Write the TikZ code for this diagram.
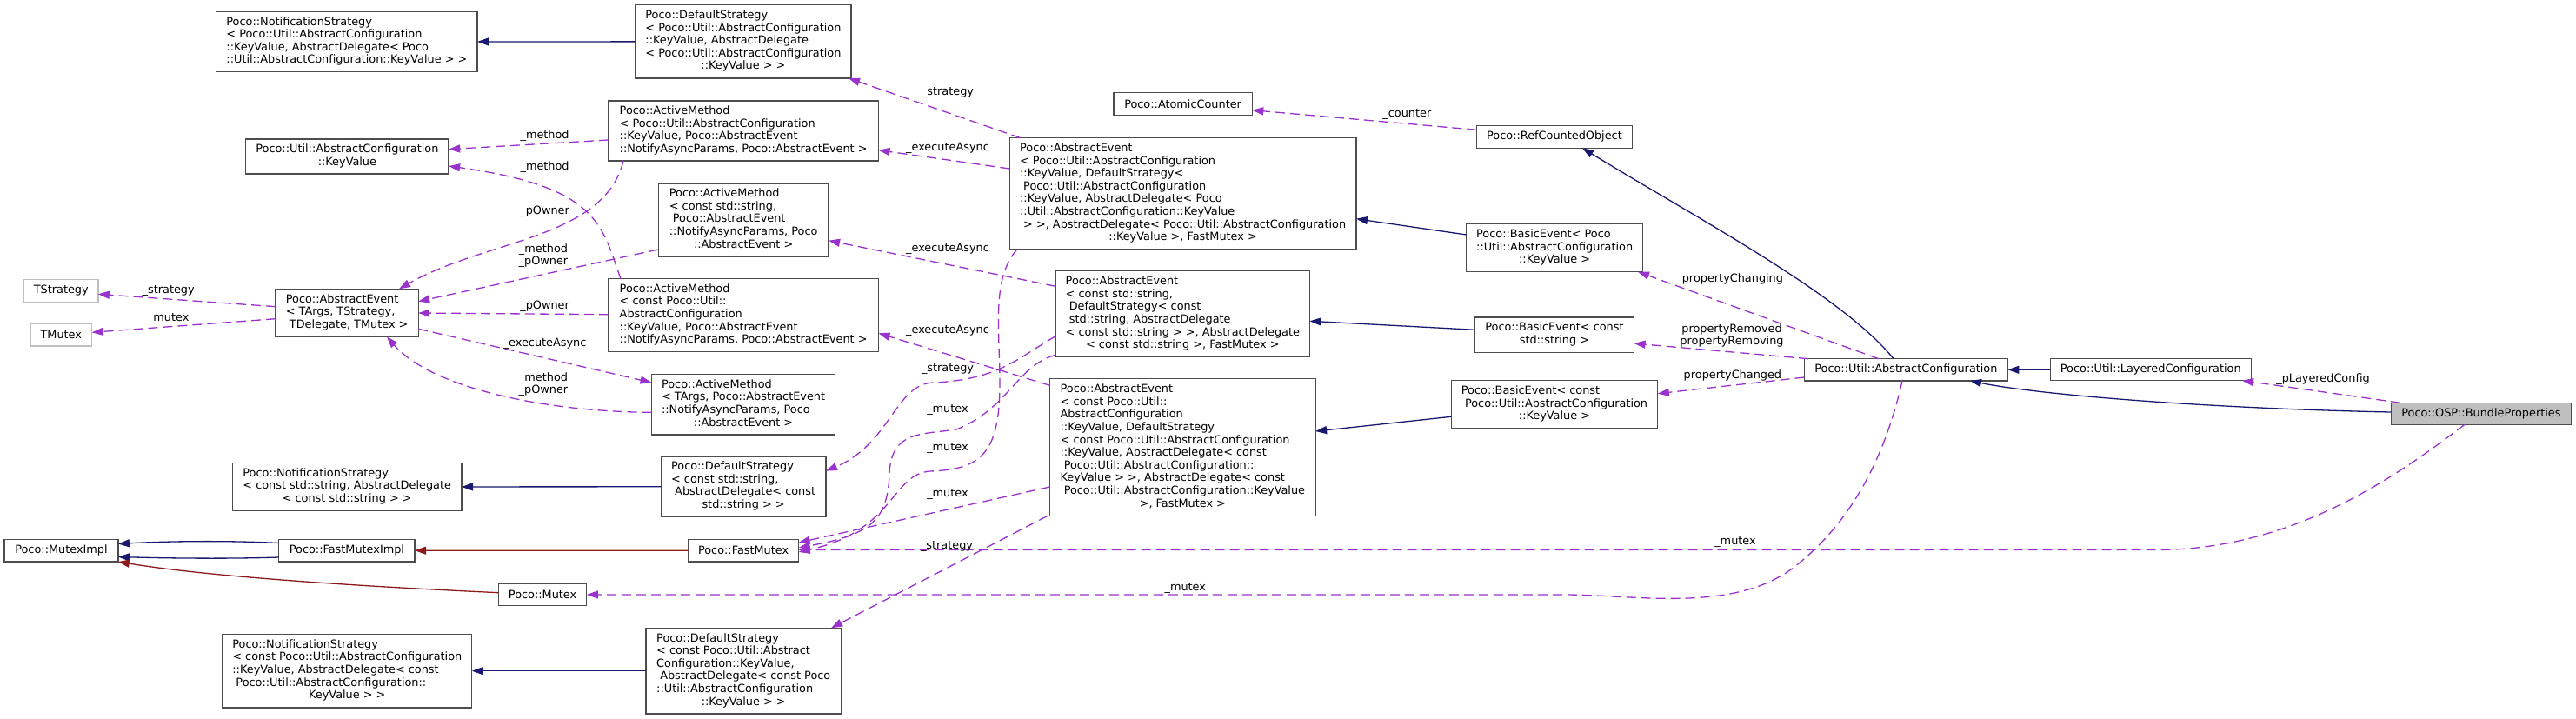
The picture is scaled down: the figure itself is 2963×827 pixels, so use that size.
\documentclass[tikz,border=0pt]{standalone}
\usepackage{fontspec}
\setmainfont{DejaVu Sans}
\usetikzlibrary{arrows.meta}
\definecolor{inhblue}{HTML}{191970}
\definecolor{privred}{HTML}{8B1A1A}
\definecolor{usepurple}{HTML}{9A32CD}
\definecolor{boxgray}{HTML}{4D4D4D}
\definecolor{extgray}{HTML}{BFBFBF}
\newcommand\boxtxt[1]{\begin{tabular}{@{}l@{}}#1\end{tabular}}
\newcommand\lastln[1]{\multicolumn{1}{@{}c@{}}{#1}}
\tikzset{
  cls/.style={draw=boxgray, line width=1.3pt, fill=white, inner sep=0pt, outer sep=0pt,
    anchor=north west, font=\fontsize{12.85}{14.6}\selectfont},
  extcls/.style={cls, draw=extgray},
  focus/.style={cls, fill=extgray},
  inh/.style={draw=inhblue, line width=1.3pt, -{Triangle[length=13pt,width=9pt]}},
  priv/.style={inh, draw=privred},
  dep/.style={draw=usepurple, line width=1.3pt, dash pattern=on 11pt off 6pt,
    -{Triangle[length=13pt,width=9pt]}},
  elbl/.style={inner sep=0pt, align=center, font=\fontsize{12.85}{14}\selectfont}
}
\begin{document}
\begin{tikzpicture}[x=1pt,y=-1pt]
\fill[white] (0,0) rectangle (2963,827);
\useasboundingbox (0,0) rectangle (2963,827);

% ---------- nodes ----------
\node[cls, minimum width=300.4pt, minimum height=69.4pt] (NS_KV) at (248.7,13.3) {\boxtxt{Poco::NotificationStrategy\\
< Poco::Util::AbstractConfiguration\\
::KeyValue, AbstractDelegate< Poco\\
\lastln{::Util::AbstractConfiguration::KeyValue > >}}};

\node[cls, minimum width=248.4pt, minimum height=84.3pt] (DS_KV) at (730.7,5.7) {\boxtxt{Poco::DefaultStrategy\\
< Poco::Util::AbstractConfiguration\\
::KeyValue, AbstractDelegate\\
< Poco::Util::AbstractConfiguration\\
\lastln{::KeyValue > >}}};

\node[cls, minimum width=310.7pt, minimum height=69pt] (AM_KV) at (699.8,116) {\boxtxt{Poco::ActiveMethod\\
< Poco::Util::AbstractConfiguration\\
::KeyValue, Poco::AbstractEvent\\
\lastln{::NotifyAsyncParams, Poco::AbstractEvent >}}};

\node[cls, minimum width=233.4pt, minimum height=40pt] (KeyValue) at (282.7,160) {\boxtxt{Poco::Util::AbstractConfiguration\\
\lastln{::KeyValue}}};

\node[cls, minimum width=195.9pt, minimum height=84pt] (AM_str) at (757.2,211) {\boxtxt{Poco::ActiveMethod\\
< const std::string,\\
\ Poco::AbstractEvent\\
::NotifyAsyncParams, Poco\\
\lastln{::AbstractEvent >}}};

\node[extcls, minimum width=85.2pt, minimum height=25.6pt] (TStrategy) at (27.7,321.7) {TStrategy};
\node[extcls, minimum width=70.8pt, minimum height=25.3pt] (TMutex) at (34.9,372.7) {TMutex};

\node[cls, minimum width=164.1pt, minimum height=55pt] (AE_T) at (317.1,332.3) {\boxtxt{Poco::AbstractEvent\\
< TArgs, TStrategy,\\
\lastln{\ TDelegate, TMutex >}}};

\node[cls, minimum width=310.7pt, minimum height=83.6pt] (AM_cKV) at (699.8,320.7) {\boxtxt{Poco::ActiveMethod\\
< const Poco::Util::\\
AbstractConfiguration\\
::KeyValue, Poco::AbstractEvent\\
\lastln{::NotifyAsyncParams, Poco::AbstractEvent >}}};

\node[cls, minimum width=211.2pt, minimum height=69.3pt] (AM_TArgs) at (749.5,430.7) {\boxtxt{Poco::ActiveMethod\\
< TArgs, Poco::AbstractEvent\\
::NotifyAsyncParams, Poco\\
\lastln{::AbstractEvent >}}};

\node[cls, minimum width=263.6pt, minimum height=54.6pt] (NS_str) at (267.4,532.7) {\boxtxt{Poco::NotificationStrategy\\
< const std::string, AbstractDelegate\\
\lastln{< const std::string > >}}};

\node[cls, minimum width=189.8pt, minimum height=69.5pt] (DS_str) at (760.2,525) {\boxtxt{Poco::DefaultStrategy\\
< const std::string,\\
\ AbstractDelegate< const\\
\lastln{std::string > >}}};

\node[cls, minimum width=130.8pt, minimum height=25.7pt] (MutexImpl) at (5.1,620.3) {Poco::MutexImpl};
\node[cls, minimum width=156.3pt, minimum height=25.7pt] (FastMutexImpl) at (320.8,620.3) {Poco::FastMutexImpl};
\node[cls, minimum width=127.2pt, minimum height=25.3pt] (FastMutex) at (791.5,620.7) {Poco::FastMutex};
\node[cls, minimum width=101.4pt, minimum height=25.7pt] (Mutex) at (573.4,671) {Poco::Mutex};

\node[cls, minimum width=287pt, minimum height=84.7pt] (NS_cKV) at (255.8,729.3) {\boxtxt{Poco::NotificationStrategy\\
< const Poco::Util::AbstractConfiguration\\
::KeyValue, AbstractDelegate< const\\
\ Poco::Util::AbstractConfiguration::\\
\lastln{KeyValue > >}}};

\node[cls, minimum width=224.5pt, minimum height=98.7pt] (DS_cKV) at (743,722.3) {\boxtxt{Poco::DefaultStrategy\\
< const Poco::Util::Abstract\\
Configuration::KeyValue,\\
\ AbstractDelegate< const Poco\\
::Util::AbstractConfiguration\\
\lastln{::KeyValue > >}}};

\node[cls, minimum width=159.2pt, minimum height=26pt] (AtomicCounter) at (1281,106.7) {Poco::AtomicCounter};

\node[cls, minimum width=398.8pt, minimum height=128pt] (AE_KV) at (1161.2,158.7) {\boxtxt{Poco::AbstractEvent\\
< Poco::Util::AbstractConfiguration\\
::KeyValue, DefaultStrategy<\\
\ Poco::Util::AbstractConfiguration\\
::KeyValue, AbstractDelegate< Poco\\
::Util::AbstractConfiguration::KeyValue\\
\ > >, AbstractDelegate< Poco::Util::AbstractConfiguration\\
\lastln{::KeyValue >, FastMutex >}}};

\node[cls, minimum width=292.3pt, minimum height=99pt] (AE_str) at (1214.2,311.7) {\boxtxt{Poco::AbstractEvent\\
< const std::string,\\
\ DefaultStrategy< const\\
\ std::string, AbstractDelegate\\
< const std::string > >, AbstractDelegate\\
\lastln{< const std::string >, FastMutex >}}};

\node[cls, minimum width=305.5pt, minimum height=157.6pt] (AE_cKV) at (1207.6,435.7) {\boxtxt{Poco::AbstractEvent\\
< const Poco::Util::\\
AbstractConfiguration\\
::KeyValue, DefaultStrategy\\
< const Poco::Util::AbstractConfiguration\\
::KeyValue, AbstractDelegate< const\\
\ Poco::Util::AbstractConfiguration::\\
KeyValue > >, AbstractDelegate< const\\
\ Poco::Util::AbstractConfiguration::KeyValue\\
\lastln{>, FastMutex >}}};

\node[cls, minimum width=179.5pt, minimum height=26pt] (RCO) at (1698.2,144.3) {Poco::RefCountedObject};

\node[cls, minimum width=203.1pt, minimum height=55pt] (BE_KV) at (1686.6,257.7) {\boxtxt{Poco::BasicEvent< Poco\\
::Util::AbstractConfiguration\\
\lastln{::KeyValue >}}};

\node[cls, minimum width=183.1pt, minimum height=40.3pt] (BE_str) at (1696.4,365) {\boxtxt{Poco::BasicEvent< const\\
\lastln{std::string >}}};

\node[cls, minimum width=237.6pt, minimum height=54.8pt] (BE_cKV) at (1669.2,437.7) {\boxtxt{Poco::BasicEvent< const\\
\ Poco::Util::AbstractConfiguration\\
\lastln{::KeyValue >}}};

\node[cls, minimum width=234pt, minimum height=25.3pt] (AC) at (2075.4,412.7) {Poco::Util::AbstractConfiguration};
\node[cls, minimum width=230.9pt, minimum height=25pt] (LC) at (2358.3,412.7) {Poco::Util::LayeredConfiguration};
\node[focus, minimum width=207.2pt, minimum height=25pt] (BP) at (2750.3,463.3) {Poco::OSP::BundleProperties};

% ---------- inheritance ----------
\draw[inh] (DS_KV) -- (NS_KV);
\draw[inh] (DS_str) -- (NS_str);
\draw[inh] (DS_cKV) -- (NS_cKV);
\draw[inh] (BE_KV.west |- 0,270) -- (AE_KV.east |- 0,251.7);
\draw[inh] (BE_str.west |- 0,379.3) -- (AE_str.east |- 0,369.3);
\draw[inh] (BE_cKV.west |- 0,479.3) -- (AE_cKV.east |- 0,496);
\draw[inh] (2178,0 |- AC.north) .. controls (2120,340) and (1950,250) .. (1820,0 |- RCO.south);
\draw[inh] (LC) -- (AC);
\draw[inh] (BP.west |- 0,474) .. controls (2550,470) and (2350,455) .. (2266,0 |- AC.south);
\draw[priv] (FastMutex) -- (FastMutexImpl);
\draw[inh] (FastMutexImpl.west |- 0,624.5) .. controls (260,621.5) and (190,622.5) .. (MutexImpl.east |- 0,625.5);
\draw[inh] (FastMutexImpl.west |- 0,641) .. controls (260,643) and (190,642) .. (MutexImpl.east |- 0,640.5);
\draw[priv] (Mutex.west |- 0,681.7) .. controls (450,676) and (250,665) .. (MutexImpl.south east);

% ---------- usage ----------
\draw[dep] (1174,0 |- AE_KV.north) -- (976,0 |- DS_KV.south);
\draw[dep] (AE_KV.west |- 0,194) -- (AM_KV.east |- 0,172.7);
\draw[dep] (AM_KV.west |- 0,161) -- (KeyValue.east |- 0,171.7);
\draw[dep] (714,0 |- AM_cKV.north) .. controls (692,260) and (690,215) .. (KeyValue.east |- 0,191);
\draw[dep] (717,0 |- AM_KV.south) .. controls (695,275) and (560,275) .. (459,0 |- AE_T.north);
\draw[dep] (AM_str.west |- 0,287) -- (AE_T.east |- 0,346.7);
\draw[dep] (AM_cKV.west |- 0,361.7) -- (AE_T.east |- 0,360);
\draw[dep] (AE_T.east |- 0,378.3) -- (AM_TArgs.west |- 0,440);
\draw[dep] (AM_TArgs.west |- 0,474.3) .. controls (640,474) and (500,450) .. (445,0 |- AE_T.south);
\draw[dep] (AE_T.west |- 0,352.7) -- (TStrategy.east |- 0,338.3);
\draw[dep] (AE_T.west |- 0,366.7) -- (TMutex.east |- 0,382.3);
\draw[dep] (AE_str.west |- 0,329.3) -- (AM_str.east |- 0,276.7);
\draw[dep] (AE_str.west |- 0,386.7) .. controls (1170,412) and (1150,436) .. (1075,440)
   .. controls (1030,440) and (1025,510) .. (DS_str.east |- 0,541.7);
\draw[dep] (AE_str.west |- 0,408.3) .. controls (1170,420) and (1160,470) .. (1100,494)
   .. controls (1060,500) and (1025,495) .. (1023,545)
   .. controls (1021,600) and (1000,615) .. (FastMutex.east |- 0,630);
\draw[dep] (1170,0 |- AE_KV.south) .. controls (1140,320) and (1150,380) .. (1150,440)
   .. controls (1150,520) and (1130,540) .. (1070,542)
   .. controls (1025,545) and (1030,610) .. (FastMutex.east |- 0,635);
\draw[dep] (AE_cKV.west |- 0,560) -- (FastMutex.east |- 0,624);
\draw[dep] (AE_cKV.west |- 0,443.3) -- (AM_cKV.east |- 0,383.3);
\draw[dep] (1205,0 |- AE_cKV.south) -- (956,0 |- DS_cKV.north);
\draw[dep] (RCO.west |- 0,149.3) -- (AtomicCounter.east |- 0,126.7);
\draw[dep] (2161,0 |- AC.north) -- (1884,0 |- BE_KV.south);
\draw[dep] (2080,0 |- AC.north) -- (BE_str.east |- 0,395);
\draw[dep] (AC.west |- 0,434) -- (BE_cKV.east |- 0,452.7);
\draw[dep] (2188,0 |- AC.south) .. controls (2165,540) and (2120,610) .. (2060,655)
   .. controls (1990,705) and (1880,684) .. (1800,684) -- (Mutex.east |- 0,684);
\draw[dep] (2761,0 |- BP.north) -- (2579,0 |- LC.south);
\draw[dep] (2835,0 |- BP.south) .. controls (2760,545) and (2640,632.5) .. (2480,632.5)
   -- (FastMutex.east |- 0,632.5);

% ---------- labels ----------
\node[elbl] (L1) at (1090,107) {\_strategy};
\node[elbl] (L2) at (1090,170.7) {\_executeAsync};
\node[elbl] (L3) at (626.6,155.7) {\_method};
\node[elbl] (L4) at (626.6,191.7) {\_method};
\node[elbl] (L5) at (626.6,243.7) {\_pOwner};
\node[elbl] (L6) at (625,293.7) {\_method\\\_pOwner};
\node[elbl] (L7) at (626.6,352.7) {\_pOwner};
\node[elbl] (L8) at (626.6,395.7) {\_executeAsync};
\node[elbl] (L9) at (625,441.7) {\_method\\\_pOwner};
\node[elbl] (L10) at (193.7,334.3) {\_strategy};
\node[elbl] (L11) at (193.7,366.7) {\_mutex};
\node[elbl] (L12) at (1090,286.7) {\_executeAsync};
\node[elbl] (L13) at (1090,424) {\_strategy};
\node[elbl] (L14) at (1090,471.7) {\_mutex};
\node[elbl] (L15) at (1090,515) {\_mutex};
\node[elbl] (L16) at (1090,568.3) {\_mutex};
\node[elbl] (L17) at (1090,380) {\_executeAsync};
\node[elbl] (L18) at (1089,628.3) {\_strategy};
\node[elbl] (L19) at (1618.4,131.7) {\_counter};
\node[elbl] (L20) at (1992.9,321) {propertyChanging};
\node[elbl] (L21) at (1992,385.5) {propertyRemoved\\propertyRemoving};
\node[elbl] (L22) at (1992.9,431.7) {propertyChanged};
\node[elbl] (L23) at (2672,435.7) {\_pLayeredConfig};
\node[elbl] (L24) at (1996,623.3) {\_mutex};
\node[elbl] (L25) at (1363.3,676) {\_mutex};
\end{tikzpicture}
\end{document}
